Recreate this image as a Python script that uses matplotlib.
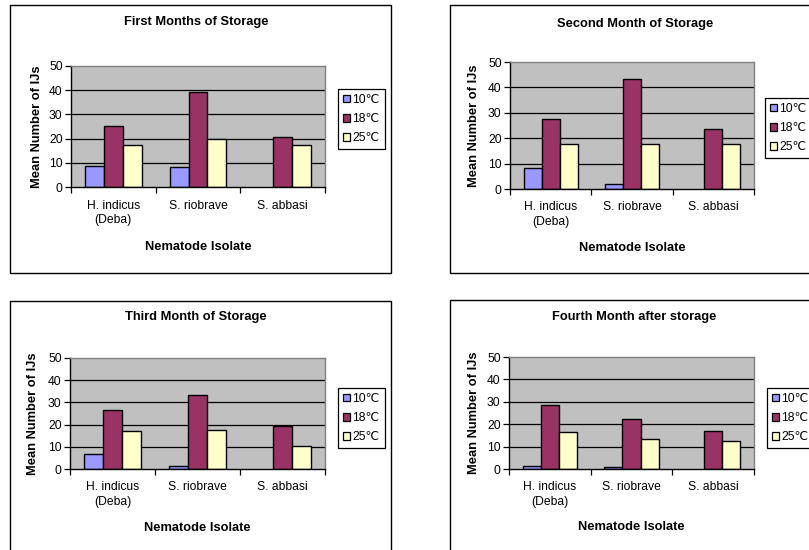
import matplotlib
matplotlib.use("Agg")
import matplotlib.pyplot as plt
from matplotlib.patches import Rectangle, Patch
import numpy as np

plt.rcParams['font.family'] = ['Liberation Sans', 'DejaVu Sans']

# ---------------- data ----------------
categories = ["H. indicus\n(Deba)", "S. riobrave", "S. abbasi"]
series_names = ["10\u2103", "18\u2103", "25\u2103"]
titles = ["First Months of Storage", "Second Month of Storage",
          "Third Month of Storage", "Fourth Month after storage"]

month1_10 = [8.7, 8.3, 0]
month1_18 = [25.1, 39.2, 20.6]
month1_25 = [17.5, 19.8, 17.5]

month2_10 = [8.1, 2.1, 0]
month2_18 = [27.6, 43.4, 23.6]
month2_25 = [17.8, 17.8, 17.8]

month3_10 = [6.6, 1.2, 0]
month3_18 = [26.6, 33.2, 19.4]
month3_25 = [17.1, 17.6, 10.5]

month4_10 = [1.2, 1.0, 0]
month4_18 = [28.7, 22.3, 16.9]
month4_25 = [16.4, 13.5, 12.4]

panels_data = [
    [month1_10, month1_18, month1_25],
    [month2_10, month2_18, month2_25],
    [month3_10, month3_18, month3_25],
    [month4_10, month4_18, month4_25],
]

yticks = [0, 10, 20, 30, 40, 50]
xlabel = "Nematode Isolate"
ylabel = "Mean Number of IJs"

# ---------------- style / layout ----------------
colors = ["#9999FF", "#993366", "#FFFFCC"]
plot_bg = "#C0C0C0"
W, H = 809, 550

layouts = [
    dict(box=(10, 5, 391, 273), ax=(71, 66, 325, 187), leg=(338, 89),
         title_x=196, title_y=22, ylab_x=37, xlab_y=247),
    dict(box=(450, 5, 830, 273), ax=(510, 62, 754, 189), leg=(765, 98),
         title_x=635, title_y=24, ylab_x=474, xlab_y=248),
    dict(box=(10, 301, 391, 580), ax=(70, 358, 325, 469), leg=(338, 388),
         title_x=196, title_y=317, ylab_x=33, xlab_y=528),
    dict(box=(450, 300, 830, 580), ax=(509, 357, 754, 469), leg=(767, 388),
         title_x=634, title_y=317, ylab_x=474, xlab_y=527),
]

TICK_FS = 8.7
TITLE_FS = 9.3
LEG_FS = 8.7

fig = plt.figure(figsize=(W / 100, H / 100), dpi=100)
fig.patch.set_facecolor("white")


def fx(px):
    return px / W


def fy(py):
    return 1 - py / H


n_cat = len(categories)
bar_w = 1 / 4.5  # gap width 150%

for data, title, lay in zip(panels_data, titles, layouts):
    bx0, by0, bx1, by1 = lay["box"]
    fig.patches.append(Rectangle((fx(bx0), fy(by1)), fx(bx1) - fx(bx0), fy(by0) - fy(by1),
                                 transform=fig.transFigure, fill=False,
                                 edgecolor="black", linewidth=1.0))
    ax0, ay0, ax1, ay1 = lay["ax"]
    ax = fig.add_axes([fx(ax0), fy(ay1), fx(ax1) - fx(ax0), fy(ay0) - fy(ay1)])
    ax.set_facecolor(plot_bg)
    x = np.arange(n_cat)
    for i, (vals, name, col) in enumerate(zip(data, series_names, colors)):
        lws = [1.0 if v > 0 else 0 for v in vals]
        ax.bar(x + (i - 1) * bar_w, vals, width=bar_w, color=col,
               edgecolor="black", linewidth=lws, label=name, zorder=3)
    ax.set_xlim(-0.5, n_cat - 0.5)
    ax.set_ylim(0, 50)
    ax.set_yticks(yticks)
    ax.set_yticklabels([str(t) for t in yticks], fontsize=TICK_FS)
    for t in yticks[1:-1]:
        ax.axhline(t, color="black", linewidth=0.9, zorder=1)
    ax.set_xticks(np.arange(n_cat + 1) - 0.5)
    ax.set_xticklabels([])
    ax.set_xticks(x, minor=True)
    ax.set_xticklabels(categories, minor=True, fontsize=TICK_FS, linespacing=1.25)
    ax.tick_params(axis="x", which="minor", length=0, pad=9)
    ax.tick_params(axis="x", which="major", length=4, direction="out", width=0.9)
    ax.tick_params(axis="y", length=4, direction="out", width=0.9, pad=2)
    for s in ["top", "right"]:
        ax.spines[s].set_color("#808080")
        ax.spines[s].set_linewidth(1.0)
    for s in ["left", "bottom"]:
        ax.spines[s].set_color("black")
        ax.spines[s].set_linewidth(1.0)
    ax.spines["bottom"].set_zorder(4)

    fig.text(fx(lay["title_x"]), fy(lay["title_y"]), title,
             ha="center", va="center", fontsize=TITLE_FS, fontweight="bold")
    fig.text(fx((ax0 + ax1) / 2), fy(lay["xlab_y"]), xlabel,
             ha="center", va="center", fontsize=TITLE_FS, fontweight="bold")
    fig.text(fx(lay["ylab_x"]), fy((ay0 + ay1) / 2), ylabel, rotation=90,
             ha="center", va="center", fontsize=TITLE_FS, fontweight="bold")

    handles = [Patch(facecolor=c, edgecolor="black", linewidth=0.9) for c in colors]
    lx, ly = lay["leg"]
    leg = ax.legend(handles, series_names, loc="upper left",
                    bbox_to_anchor=(fx(lx), fy(ly)), bbox_transform=fig.transFigure,
                    fontsize=LEG_FS, frameon=True, fancybox=False, framealpha=1,
                    edgecolor="black", handlelength=0.6, handleheight=0.6,
                    handletextpad=0.2, labelspacing=0.6, borderpad=0.4,
                    borderaxespad=0)
    leg.get_frame().set_linewidth(0.9)

fig.savefig("out.png", dpi=100)
